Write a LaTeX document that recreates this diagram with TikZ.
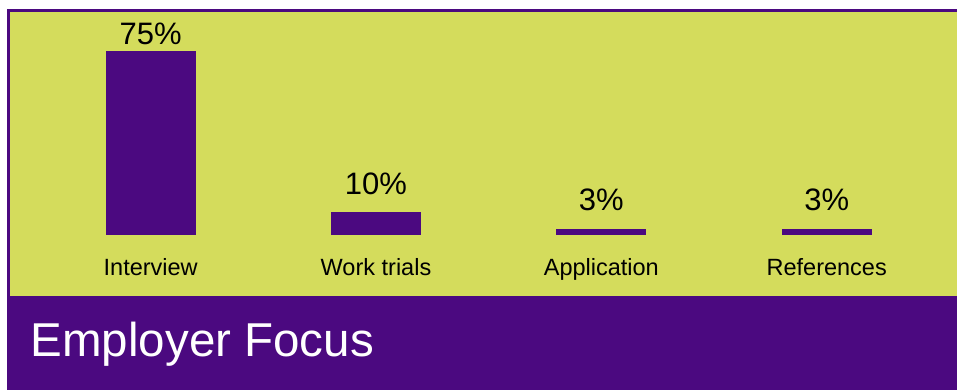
\documentclass[tikz,border=0pt]{standalone}
\usepackage{fontspec}
\setmainfont{Liberation Sans}
\definecolor{lime}{RGB}{212,220,92}
\definecolor{violet}{RGB}{75,9,128}

\begin{document}
\begin{tikzpicture}[x=1pt, y=-1pt]
\tikzset{bar/.style={fill=violet, inner sep=0pt, minimum width=90pt, anchor=south},
  pct/.style={inner sep=0pt, anchor=base, font=\fontsize{31}{36}\selectfont},
  cat/.style={inner sep=0pt, anchor=base, font=\fontsize{23.5}{28}\selectfont}}
\useasboundingbox (0,0) rectangle (957,390);
\fill[white] (0,0) rectangle (957,390);
\fill[lime] (7,9) rectangle (957,296);
\draw[violet, line width=2.4pt] (957,10.5) -- (8.5,10.5) -- (8.5,296);
\fill[violet] (7,296) rectangle (957,390);
% bars
\node[bar, minimum height=184pt] (B1) at (150.7,235) {};
\node[bar, minimum height=23pt] (B2) at (376,235) {};
\node[bar, minimum height=6pt] (B3) at (601.3,235) {};
\node[bar, minimum height=6pt] (B4) at (826.7,235) {};
\node[pct] (P1) at (150.7,45) {75\%};
\node[pct] (P2) at (376,194.3) {10\%};
\node[pct] (P3) at (601.3,210.5) {3\%};
\node[pct] (P4) at (826.7,210.5) {3\%};
\node[cat] (C1) at (150.7,275.3) {Interview};
\node[cat] (C2) at (376,275.3) {Work trials};
\node[cat] (C3) at (601.3,275.3) {Application};
\node[cat] (C4) at (826.7,275.3) {References};
% title
\node[inner sep=0pt, anchor=base west, text=white, font=\fontsize{47.5}{54}\selectfont] (T) at (30.5,356.7) {Employer Focus};
\end{tikzpicture}
\end{document}
